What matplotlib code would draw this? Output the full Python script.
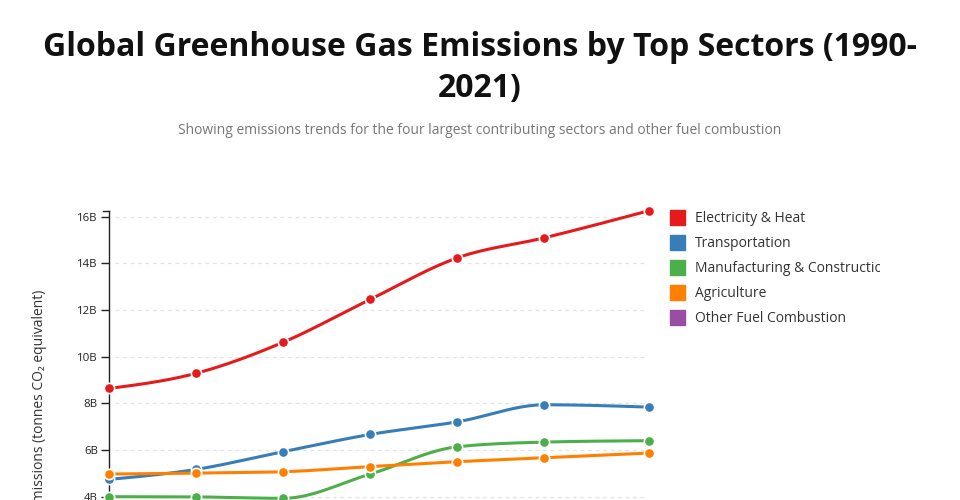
import numpy as np
import matplotlib
matplotlib.use("Agg")
import matplotlib.pyplot as plt
from matplotlib.patches import Rectangle

plt.rcParams["font.family"] = ["Open Sans", "DejaVu Sans"]

years = [1990, 1995, 2000, 2005, 2010, 2015, 2021]
sectors = ["Electricity & Heat", "Transportation", "Manufacturing & Construction",
           "Agriculture", "Other Fuel Combustion"]
colors = ["#e41a1c", "#377eb8", "#4daf4a", "#ff7f00", "#984ea3"]

# billions of tonnes CO2e
electricity = [8.64, 9.29, 10.62, 12.46, 14.24, 15.10, 16.26]
transport = [4.74, 5.17, 5.93, 6.67, 7.21, 7.94, 7.84]
manufacturing = [4.00, 3.99, 3.93, 4.97, 6.14, 6.34, 6.40]
agriculture = [4.97, 5.01, 5.07, 5.29, 5.50, 5.67, 5.87]
other_fuel = [1.50, 1.45, 1.45, 1.55, 1.60, 1.60, 1.60]  # below the visible area
series = [electricity, transport, manufacturing, agriculture, other_fuel]


def monotone_x(x, y, n=30):
    """Monotone cubic curve through the points (like d3.curveMonotoneX)."""
    x = np.asarray(x, float)
    y = np.asarray(y, float)
    h = np.diff(x)
    s = np.diff(y) / h
    t = np.zeros_like(y)
    for i in range(1, len(x) - 1):
        p = (s[i - 1] * h[i] + s[i] * h[i - 1]) / (h[i - 1] + h[i])
        t[i] = (np.sign(s[i - 1]) + np.sign(s[i])) * min(abs(s[i - 1]), abs(s[i]), 0.5 * abs(p))
    t[0] = (3 * s[0] - t[1]) / 2
    t[-1] = (3 * s[-1] - t[-2]) / 2
    xs, ys = [], []
    for i in range(len(x) - 1):
        u = np.linspace(0, 1, n)
        h00 = 2 * u**3 - 3 * u**2 + 1
        h10 = u**3 - 2 * u**2 + u
        h01 = -2 * u**3 + 3 * u**2
        h11 = u**3 - u**2
        xs.append(x[i] + u * h[i])
        ys.append(h00 * y[i] + h10 * h[i] * t[i] + h01 * y[i + 1] + h11 * h[i] * t[i + 1])
    return np.concatenate(xs), np.concatenate(ys)


W, H = 960, 500
fig = plt.figure(figsize=(W / 100, H / 100), dpi=100)

# plot area: x 109..649 px, y top 210.7 px, bottom (value 0) at 590 px (off-canvas)
left, right, top, bottom = 109, 649, 210.7, 590
ax = fig.add_axes([left / W, 1 - bottom / H, (right - left) / W, (bottom - top) / H])
ymax = max(max(s) for s in series)
ax.set_xlim(years[0], years[-1])
ax.set_ylim(0, ymax)

for vals, c in zip(series, colors):
    cx, cy = monotone_x(years, vals)
    ax.plot(cx, cy, color=c, linewidth=2.2, solid_capstyle="round", zorder=3, clip_on=False)
    ax.scatter(years, vals, s=55, color=c, edgecolors="white", linewidths=1.2,
               zorder=4, clip_on=False)

yt = np.arange(0, 17, 2)
ax.set_yticks(yt)
ax.set_yticklabels([f"{v}B" for v in yt])
ax.tick_params(axis="y", length=6, width=1, color="#222222", labelsize=8.25,
               labelcolor="#222222", pad=2)
ax.set_xticks([])
for v in yt:
    ax.axhline(v, xmin=0.012, xmax=0.995, color="#e3e3e3", linewidth=0.9,
               linestyle=(0, (3, 3)), zorder=1)
for sp in ["top", "right", "bottom"]:
    ax.spines[sp].set_visible(False)
ax.spines["left"].set_linewidth(1)
ax.spines["left"].set_color("#222222")
# outer tick at the top of the domain
ax.plot([-0.011, 0], [1, 1], transform=ax.transAxes, color="#222222",
        linewidth=1, clip_on=False)

title_font = dict(fontsize=23, fontweight="bold", color="#111111")
fig.text(0.5, 1 - 56.5 / H, "Global Greenhouse Gas Emissions by Top Sectors (1990-",
         ha="center", va="baseline", **title_font)
fig.text(0.5, 1 - 97 / H, "2021)", ha="center", va="baseline", **title_font)
fig.text(0.5, 1 - 134.5 / H,
         "Showing emissions trends for the four largest contributing sectors and other fuel combustion",
         ha="center", va="baseline", fontsize=10, color="#777777")
fig.text(40 / W, 1 - 400 / H, "Emissions (tonnes CO\u2082 equivalent)", rotation=90,
         ha="center", va="center", fontsize=10, color="#333333")

# legend
clip = Rectangle((0, 0), 880 / W, 1, transform=fig.transFigure, visible=False)
fig.add_artist(clip)
for i, (name, c) in enumerate(zip(sectors, colors)):
    yc = 217.5 + 25 * i
    fig.add_artist(Rectangle((670 / W, 1 - (yc + 7.5) / H), 15 / W, 15 / H,
                             transform=fig.transFigure, color=c))
    t = fig.text(695 / W, 1 - (yc + 1) / H, name, ha="left", va="center",
                 fontsize=10, color="#333333")
    t.set_clip_path(clip)

fig.savefig("out.png", dpi=100)
